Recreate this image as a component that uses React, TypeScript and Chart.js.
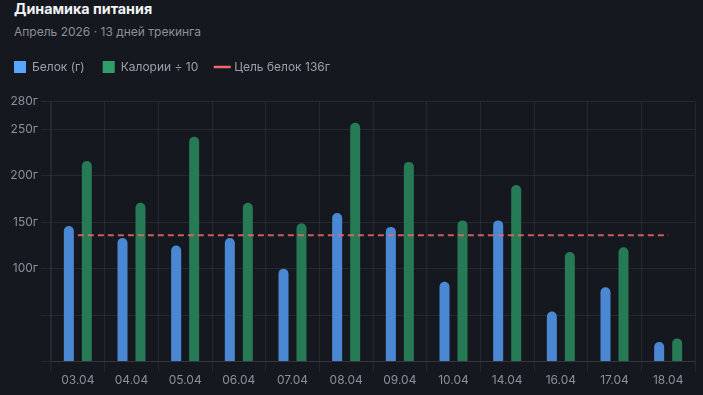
import React, { useEffect, useRef } from 'react';
import { Chart, registerables } from 'chart.js';

Chart.register(...registerables);

// Days of tracking
const days = ['03.04', '04.04', '05.04', '06.04', '07.04', '08.04', '09.04', '10.04', '14.04', '16.04', '17.04', '18.04'];
// Protein intake per day, grams
const protein = [146, 133, 125, 133, 100, 160, 145, 86, 152, 54, 80, 21];
// Calories per day divided by 10
const caloriesTenth = [216, 171, 242, 171, 149, 257, 215, 152, 190, 118, 123, 25];
// Daily protein goal, grams
const proteinGoal = 136;
// Y axis ticks and the ones that carry a label
const yTicks = [0, 50, 100, 150, 200, 250, 280];
const yLabeled = [100, 150, 200, 250, 280];

const BG = '#16181f';
const GRID = 'rgba(255,255,255,0.07)';
const TEXT_MUTED = '#8b909b';
const LEGEND_TEXT = '#9aa0ab';
const legendColors = ['#58a6ff', '#2f9e68', '#f06a6a'];

// Adds extra space under the legend
const legendGap = {
  id: 'legendGap',
  beforeLayout(chart: any) {
    const legend = chart.legend;
    if (legend && !legend.__gapPatched) {
      const fit = legend.fit;
      legend.fit = function () {
        fit.call(this);
        this.height += 18.5;
      };
      legend.__gapPatched = true;
    }
  },
};

export default function App() {
  const canvasRef = useRef<HTMLCanvasElement | null>(null);

  useEffect(() => {
    if (!canvasRef.current) return;
    Chart.defaults.font.family = 'Inter, "Noto Sans", sans-serif';
    const chart = new Chart(canvasRef.current, {
      type: 'bar',
      data: {
        labels: days,
        datasets: [
          {
            label: 'Белок (г)',
            data: protein,
            backgroundColor: '#4a88d4',
            borderRadius: 5,
            borderSkipped: 'bottom',
            pointStyle: 'rect',
            categoryPercentage: 0.671,
            barPercentage: 0.556,
          } as any,
          {
            label: 'Калории ÷ 10',
            data: caloriesTenth,
            backgroundColor: '#267a55',
            borderRadius: 5,
            borderSkipped: 'bottom',
            pointStyle: 'rect',
            categoryPercentage: 0.671,
            barPercentage: 0.556,
          } as any,
          {
            type: 'line',
            label: 'Цель белок 136г',
            data: days.map(() => proteinGoal),
            borderColor: 'rgba(240,106,106,0.82)',
            borderWidth: 2,
            borderDash: [6, 4],
            pointRadius: 0,
            pointStyle: 'line',
            fill: false,
            order: -1,
          } as any,
        ],
      },
      options: {
        animation: false,
        responsive: false,
        layout: { padding: { left: 0, right: 8, top: 0, bottom: 5 } },
        plugins: {
          tooltip: { enabled: false },
          legend: {
            display: true,
            position: 'top',
            align: 'start',
            labels: {
              usePointStyle: true,
              boxWidth: 12,
              boxHeight: 12,
              padding: 18,
              color: LEGEND_TEXT,
              font: { size: 12 },
              sort: (a: any, b: any) => a.datasetIndex - b.datasetIndex,
              generateLabels: (c: any) => {
                const items = (Chart.defaults.plugins.legend.labels as any).generateLabels(c);
                return items.map((it: any) => ({
                  ...it,
                  fillStyle: legendColors[it.datasetIndex],
                  strokeStyle: legendColors[it.datasetIndex],
                  lineDash: [],
                  lineWidth: it.datasetIndex === 2 ? 2.5 : 0,
                  fontColor: LEGEND_TEXT,
                }));
              },
            },
          },
        },
        scales: {
          x: {
            grid: { color: GRID, tickLength: 10, offset: true },
            border: { color: GRID },
            ticks: { color: TEXT_MUTED, font: { size: 12 }, padding: 2 },
          },
          y: {
            min: 0,
            max: 280,
            grid: { color: GRID, tickLength: 10 },
            border: { color: GRID },
            afterBuildTicks: (scale: any) => {
              scale.ticks = yTicks.map((v) => ({ value: v }));
            },
            afterFit: (scale: any) => {
              scale.width = 55;
            },
            ticks: {
              color: TEXT_MUTED,
              font: { size: 12 },
              padding: 3,
              callback: (v: any) => (yLabeled.includes(Number(v)) ? `${v}г` : ''),
            },
          },
        },
      },
      plugins: [legendGap],
    });
    return () => chart.destroy();
  }, []);

  return (
    <div style={{ position: 'fixed', left: 0, top: 0, width: 703, height: 395, background: BG, overflow: 'hidden' }}>
      <div
        style={{
          position: 'absolute',
          left: 14,
          top: 0,
          fontFamily: 'Inter, sans-serif',
          fontWeight: 700,
          fontSize: 14.3,
          lineHeight: '17px',
          color: '#f2f4f7',
          whiteSpace: 'nowrap',
        }}
      >
        Динамика питания
      </div>
      <div
        style={{
          position: 'absolute',
          left: 14,
          top: 24,
          fontFamily: 'Inter, sans-serif',
          fontSize: 12,
          lineHeight: '15px',
          color: TEXT_MUTED,
          whiteSpace: 'nowrap',
        }}
      >
        Апрель 2026 · 13 дней трекинга
      </div>
      <canvas
        ref={canvasRef}
        width={707}
        height={352}
        style={{ position: 'absolute', left: -4, top: 43, width: 707, height: 352 }}
      />
    </div>
  );
}
